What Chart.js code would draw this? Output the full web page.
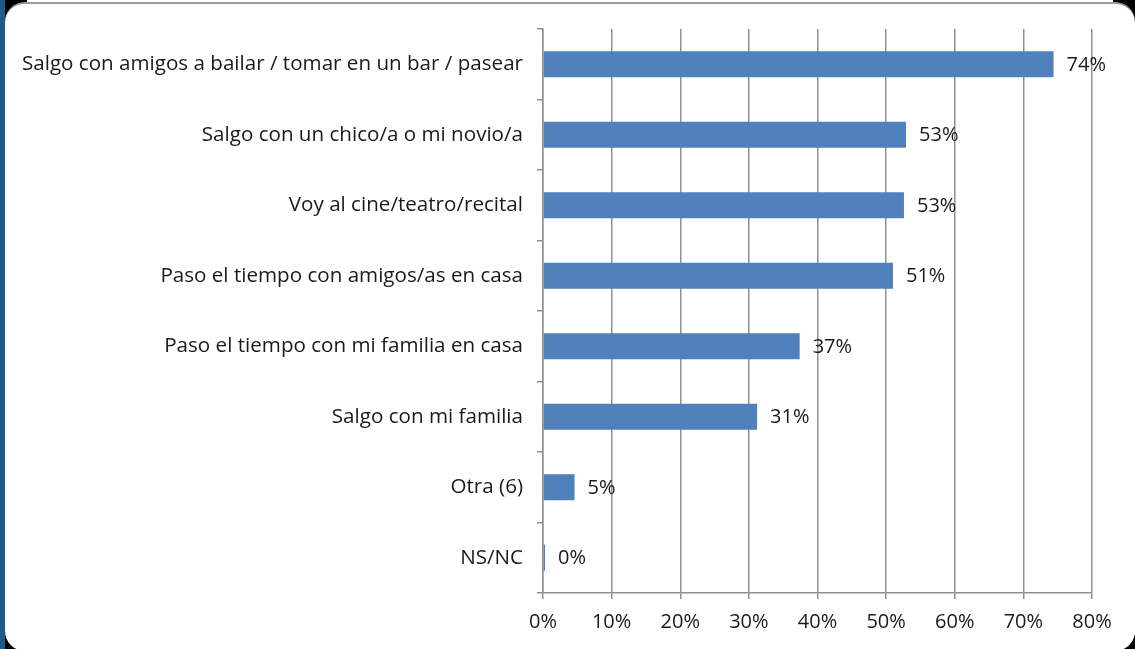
<!DOCTYPE html>
<html>
<head>
<meta charset="utf-8">
<script src="https://cdn.jsdelivr.net/npm/chart.js@4"></script>
<style>
    html, body { margin: 0; padding: 0; background: #fff; }
    body { width: 1135px; height: 649px; position: relative; overflow: hidden; }
    .strip { position: absolute; left: 0; top: 0; width: 5px; height: 649px; background: #1b5b8c; }
    .corner { position: absolute; width: 22px; height: 22px; background: #000; }
    .panel {
        position: absolute; left: 5px; top: 2px; width: 1130px; height: 647px;
        background: #fff; border-radius: 20px; border-top: 2px solid #9a9a9a;
    }
    #chart-wrap { position: absolute; left: 0; top: 0; width: 1135px; height: 649px; }
</style>
</head>
<body>
<div class="strip"></div>
<div class="corner" style="left:5px;top:0"></div>
<div class="corner" style="right:0;top:0"></div>
<div class="corner" style="left:5px;bottom:0"></div>
<div class="corner" style="right:0;bottom:0;width:14px;height:14px"></div>
<div class="panel"></div>
<div id="chart-wrap"><canvas id="chart"></canvas></div>
<script>
// Chart data
const categories = [
    'Salgo con amigos a bailar / tomar en un bar / pasear',
    'Salgo con un chico/a o mi novio/a',
    'Voy al cine/teatro/recital',
    'Paso el tiempo con amigos/as en casa',
    'Paso el tiempo con mi familia en casa',
    'Salgo con mi familia',
    'Otra (6)',
    'NS/NC'
];
const values = [74.4, 52.9, 52.6, 51.0, 37.4, 31.2, 4.6, 0.3];
const xTicks = [0, 10, 20, 30, 40, 50, 60, 70, 80];

const FONT = '"Open Sans", sans-serif';
const GRID = '#8f8f8f';

// Draws the value labels to the right of each bar
const barLabels = {
    id: 'barLabels',
    afterDatasetsDraw(chart) {
        const ctx = chart.ctx;
        const meta = chart.getDatasetMeta(0);
        ctx.save();
        ctx.font = '20px ' + FONT;
        ctx.fillStyle = '#1a1a1a';
        ctx.textBaseline = 'middle';
        ctx.textAlign = 'left';
        meta.data.forEach((bar, i) => {
            ctx.fillText(Math.round(values[i]) + '%', bar.x + 13, bar.y + 1);
        });
        ctx.restore();
    }
};

new Chart(document.getElementById('chart'), {
    type: 'bar',
    data: {
        labels: categories,
        datasets: [{
            data: values,
            backgroundColor: '#4f81bd',
            borderWidth: 0,
            categoryPercentage: 1,
            barPercentage: 0.37
        }]
    },
    options: {
        indexAxis: 'y',
        responsive: true,
        maintainAspectRatio: false,
        animation: false,
        layout: { padding: { top: 29, right: 43, left: 0, bottom: 0 } },
        plugins: {
            legend: { display: false },
            tooltip: { enabled: false }
        },
        scales: {
            x: {
                min: 0,
                max: 80,
                afterBuildTicks: scale => { scale.ticks = xTicks.map(v => ({ value: v })); },
                afterFit: scale => { scale.height = 56; },
                grid: { color: GRID, lineWidth: 1.5, tickLength: 6, tickColor: GRID },
                border: { color: GRID, width: 1.5 },
                ticks: {
                    color: '#1a1a1a',
                    padding: 11,
                    font: { family: FONT, size: 20 },
                    callback: v => v + '%'
                }
            },
            y: {
                afterFit: scale => { scale.width = 543; },
                grid: { drawOnChartArea: false, offset: true, tickLength: 6, color: GRID, lineWidth: 1.5 },
                border: { color: GRID, width: 1.5 },
                ticks: {
                    color: '#1a1a1a',
                    padding: 14,
                    font: { family: FONT, size: 20.6 }
                }
            }
        }
    },
    plugins: [barLabels]
});
</script>
</body>
</html>
